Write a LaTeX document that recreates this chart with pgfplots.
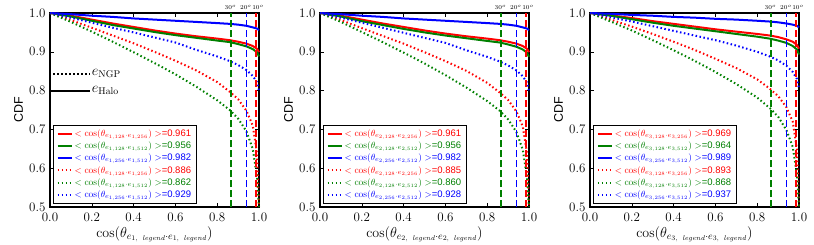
\documentclass[border=0pt]{standalone}
\usepackage{fontspec}
\setsansfont{Liberation Sans}
\usepackage{pgfplots}
\usepackage{pgfplotstable}
\pgfplotsset{compat=1.18}
\definecolor{mplred}{rgb}{1,0,0}
\definecolor{mplgreen}{rgb}{0,0.5,0}
\definecolor{mplblue}{rgb}{0,0,1}

\pgfplotstableread{
x sr sg sb dr dg db
0 1 1 1 1 1 1
0.1 0.993 0.991 0.997 0.982 0.977 0.988
0.2 0.983 0.980 0.993 0.962 0.952 0.975
0.3 0.973 0.969 0.990 0.942 0.926 0.962
0.4 0.964 0.960 0.986 0.922 0.899 0.950
0.5 0.955 0.951 0.983 0.900 0.871 0.937
0.6 0.947 0.943 0.980 0.877 0.842 0.924
0.7 0.940 0.936 0.977 0.852 0.810 0.905
0.8 0.934 0.929 0.974 0.822 0.775 0.888
0.86 0.930 0.925 0.972 0.797 0.750 0.876
0.9 0.926 0.920 0.970 0.778 0.728 0.866
0.94 0.921 0.914 0.967 0.748 0.695 0.853
0.97 0.915 0.907 0.963 0.710 0.650 0.838
0.99 0.908 0.899 0.960 0.640 0.580 0.822
1.0 0.899 0.888 0.956 0.500 0.500 0.800
}\tabA

\pgfplotstableread{
x sr sg sb dr dg db
0 1 1 1 1 1 1
0.1 0.993 0.991 0.997 0.982 0.977 0.988
0.2 0.983 0.979 0.993 0.961 0.951 0.975
0.3 0.973 0.969 0.990 0.941 0.925 0.962
0.4 0.964 0.959 0.986 0.921 0.898 0.949
0.5 0.955 0.950 0.983 0.899 0.870 0.936
0.6 0.947 0.942 0.980 0.876 0.840 0.923
0.7 0.940 0.935 0.977 0.851 0.808 0.904
0.8 0.934 0.928 0.974 0.820 0.773 0.887
0.86 0.930 0.924 0.972 0.795 0.748 0.875
0.9 0.926 0.919 0.970 0.776 0.726 0.865
0.94 0.921 0.913 0.967 0.746 0.693 0.852
0.97 0.915 0.906 0.963 0.708 0.648 0.837
0.99 0.908 0.898 0.960 0.640 0.578 0.821
1.0 0.899 0.887 0.956 0.500 0.500 0.800
}\tabB

\pgfplotstableread{
x sr sg sb dr dg db
0 1 1 1 1 1 1
0.1 0.994 0.993 0.998 0.983 0.978 0.989
0.2 0.987 0.984 0.995 0.965 0.955 0.978
0.3 0.979 0.975 0.993 0.946 0.930 0.966
0.4 0.972 0.967 0.990 0.926 0.904 0.954
0.5 0.965 0.960 0.988 0.905 0.877 0.942
0.6 0.958 0.953 0.985 0.882 0.848 0.930
0.7 0.952 0.946 0.983 0.858 0.817 0.916
0.8 0.946 0.939 0.980 0.829 0.782 0.900
0.86 0.942 0.934 0.978 0.805 0.755 0.888
0.9 0.938 0.929 0.976 0.786 0.733 0.878
0.94 0.932 0.923 0.973 0.757 0.698 0.864
0.97 0.926 0.915 0.970 0.720 0.655 0.848
0.99 0.918 0.906 0.967 0.650 0.585 0.830
1.0 0.908 0.893 0.963 0.500 0.500 0.805
}\tabC

\pgfplotsset{
  cdfax/.style={
    scale only axis, width=209pt, height=194pt,
    anchor=south west,
    xmin=0, xmax=1, ymin=0.5, ymax=1,
    xtick={0,0.2,0.4,0.6,0.8,1.0},
    ytick={0.5,0.6,0.7,0.8,0.9,1.0},
    xticklabels={0.0,0.2,0.4,0.6,0.8,1.0},
    yticklabels={0.5,0.6,0.7,0.8,0.9,1.0},
    tick align=inside, major tick length=4pt,
    tick style={black, line width=0.6pt},
    tick label style={font=\fontsize{13}{15}\selectfont},
    xticklabel style={yshift=-2pt},
    yticklabel style={xshift=-1pt},
    axis line style={line width=1.3pt},
    clip=false,
    ylabel={CDF},
    ylabel style={font=\sffamily\fontsize{12.5}{14}\selectfont, at={(axis description cs:-0.15,0.5)}, anchor=center},
    xlabel style={font=\fontsize{14}{16}\selectfont, at={(axis description cs:0.5,-0.14)}, anchor=center},
    legend cell align=left,
    legend style={at={(0.016,0.018)}, anchor=south west, draw=black, line width=0.8pt, fill=white,
      font=\fontsize{9.5}{11}\selectfont, row sep=0pt, inner xsep=3pt, inner ysep=2pt},
    legend image code/.code={\draw[##1] (0pt,0pt) -- (14pt,0pt);},
  },
  sline/.style={line width=2pt},
  dline/.style={line width=2pt, dash pattern=on 1.5pt off 2.5pt},
  vline/.style={line width=1.6pt, dash pattern=on 7pt off 3pt, forget plot},
}

\newcommand{\angmarks}{%
  \node[font=\fontsize{6}{7}\selectfont, anchor=south, inner sep=0pt] at (axis cs:0.863,1.008) {$30^{o}$};
  \node[font=\fontsize{6}{7}\selectfont, anchor=south, inner sep=0pt] at (axis cs:0.937,1.008) {$20^{o}$};
  \node[font=\fontsize{6}{7}\selectfont, anchor=south, inner sep=0pt] at (axis cs:0.995,1.008) {$10^{o}$};
}

\begin{document}
\begin{tikzpicture}
\useasboundingbox (0,0) rectangle (814pt,244pt);

% ---------- panel 1 ----------
\begin{axis}[cdfax, at={(50pt,37pt)},
  xlabel={$\cos(\theta_{e_{1,\ \mathit{legend}}\cdot e_{1,\ \mathit{legend}}})$}]
\addplot[sline, mplred] table[x=x,y=sr] {\tabA};
\addlegendentry{\textcolor{mplred}{$<\cos(\theta_{e_{1,128}\cdot e_{1,256}})>$\textsf{=0.961}}}
\addplot[sline, mplgreen] table[x=x,y=sg] {\tabA};
\addlegendentry{\textcolor{mplgreen}{$<\cos(\theta_{e_{1,128}\cdot e_{1,512}})>$\textsf{=0.956}}}
\addplot[sline, mplblue] table[x=x,y=sb] {\tabA};
\addlegendentry{\textcolor{mplblue}{$<\cos(\theta_{e_{1,256}\cdot e_{1,512}})>$\textsf{=0.982}}}
\addplot[dline, mplred] table[x=x,y=dr] {\tabA};
\addlegendentry{\textcolor{mplred}{$<\cos(\theta_{e_{1,128}\cdot e_{1,256}})>$\textsf{=0.886}}}
\addplot[dline, mplgreen] table[x=x,y=dg] {\tabA};
\addlegendentry{\textcolor{mplgreen}{$<\cos(\theta_{e_{1,128}\cdot e_{1,512}})>$\textsf{=0.862}}}
\addplot[dline, mplblue] table[x=x,y=db] {\tabA};
\addlegendentry{\textcolor{mplblue}{$<\cos(\theta_{e_{1,256}\cdot e_{1,512}})>$\textsf{=0.929}}}
\addplot[vline, mplgreen] coordinates {(0.866,0.5) (0.866,1)};
\addplot[vline, mplblue] coordinates {(0.940,0.5) (0.940,1)};
\addplot[vline, mplred] coordinates {(0.985,0.5) (0.985,1)};
\angmarks
\draw[black, line width=2pt, dash pattern=on 1.5pt off 2.5pt] (axis cs:0.015,0.843) -- (axis cs:0.19,0.843);
\draw[black, line width=2pt] (axis cs:0,0.80) -- (axis cs:0.19,0.80);
\node[anchor=west, font=\fontsize{14}{16}\selectfont, inner sep=1pt] at (axis cs:0.195,0.843) {$e_{\rm NGP}$};
\node[anchor=west, font=\fontsize{14}{16}\selectfont, inner sep=1pt] at (axis cs:0.195,0.80) {$e_{\rm Halo}$};
\end{axis}

% ---------- panel 2 ----------
\begin{axis}[cdfax, at={(320pt,37pt)},
  xlabel={$\cos(\theta_{e_{2,\ \mathit{legend}}\cdot e_{2,\ \mathit{legend}}})$}]
\addplot[sline, mplred] table[x=x,y=sr] {\tabB};
\addlegendentry{\textcolor{mplred}{$<\cos(\theta_{e_{2,128}\cdot e_{2,256}})>$\textsf{=0.961}}}
\addplot[sline, mplgreen] table[x=x,y=sg] {\tabB};
\addlegendentry{\textcolor{mplgreen}{$<\cos(\theta_{e_{2,128}\cdot e_{2,512}})>$\textsf{=0.956}}}
\addplot[sline, mplblue] table[x=x,y=sb] {\tabB};
\addlegendentry{\textcolor{mplblue}{$<\cos(\theta_{e_{2,256}\cdot e_{2,512}})>$\textsf{=0.982}}}
\addplot[dline, mplred] table[x=x,y=dr] {\tabB};
\addlegendentry{\textcolor{mplred}{$<\cos(\theta_{e_{2,128}\cdot e_{2,256}})>$\textsf{=0.885}}}
\addplot[dline, mplgreen] table[x=x,y=dg] {\tabB};
\addlegendentry{\textcolor{mplgreen}{$<\cos(\theta_{e_{2,128}\cdot e_{2,512}})>$\textsf{=0.860}}}
\addplot[dline, mplblue] table[x=x,y=db] {\tabB};
\addlegendentry{\textcolor{mplblue}{$<\cos(\theta_{e_{2,256}\cdot e_{2,512}})>$\textsf{=0.928}}}
\addplot[vline, mplgreen] coordinates {(0.866,0.5) (0.866,1)};
\addplot[vline, mplblue] coordinates {(0.940,0.5) (0.940,1)};
\addplot[vline, mplred] coordinates {(0.985,0.5) (0.985,1)};
\angmarks
\end{axis}

% ---------- panel 3 ----------
\begin{axis}[cdfax, at={(590pt,37pt)},
  xlabel={$\cos(\theta_{e_{3,\ \mathit{legend}}\cdot e_{3,\ \mathit{legend}}})$}]
\addplot[sline, mplred] table[x=x,y=sr] {\tabC};
\addlegendentry{\textcolor{mplred}{$<\cos(\theta_{e_{3,128}\cdot e_{3,256}})>$\textsf{=0.969}}}
\addplot[sline, mplgreen] table[x=x,y=sg] {\tabC};
\addlegendentry{\textcolor{mplgreen}{$<\cos(\theta_{e_{3,128}\cdot e_{3,512}})>$\textsf{=0.964}}}
\addplot[sline, mplblue] table[x=x,y=sb] {\tabC};
\addlegendentry{\textcolor{mplblue}{$<\cos(\theta_{e_{3,256}\cdot e_{3,512}})>$\textsf{=0.989}}}
\addplot[dline, mplred] table[x=x,y=dr] {\tabC};
\addlegendentry{\textcolor{mplred}{$<\cos(\theta_{e_{3,128}\cdot e_{3,256}})>$\textsf{=0.893}}}
\addplot[dline, mplgreen] table[x=x,y=dg] {\tabC};
\addlegendentry{\textcolor{mplgreen}{$<\cos(\theta_{e_{3,128}\cdot e_{3,512}})>$\textsf{=0.868}}}
\addplot[dline, mplblue] table[x=x,y=db] {\tabC};
\addlegendentry{\textcolor{mplblue}{$<\cos(\theta_{e_{3,256}\cdot e_{3,512}})>$\textsf{=0.937}}}
\addplot[vline, mplgreen] coordinates {(0.866,0.5) (0.866,1)};
\addplot[vline, mplblue] coordinates {(0.940,0.5) (0.940,1)};
\addplot[vline, mplred] coordinates {(0.985,0.5) (0.985,1)};
\angmarks
\end{axis}
\end{tikzpicture}
\end{document}
